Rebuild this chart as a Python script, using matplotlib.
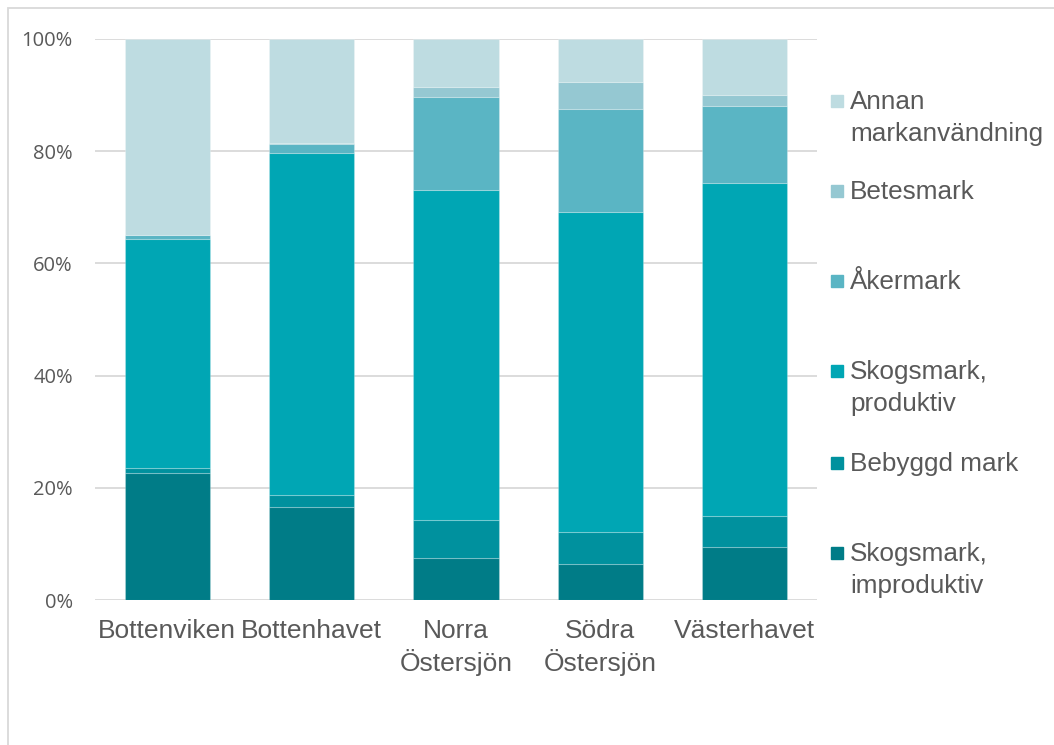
import matplotlib
matplotlib.use("Agg")
import matplotlib.pyplot as plt
from matplotlib.patches import Rectangle
import numpy as np

categories = ["Bottenviken", "Bottenhavet", "Norra\nÖstersjön", "Södra\nÖstersjön", "Västerhavet"]
series_names = ["Skogsmark,\nimproduktiv", "Bebyggd mark", "Skogsmark,\nproduktiv",
                "Åkermark", "Betesmark", "Annan\nmarkanvändning"]
improduktiv = [22.6, 16.6, 7.4, 6.5, 9.5]
bebyggd = [0.9, 2.1, 6.8, 5.7, 5.4]
produktiv = [40.8, 60.9, 58.9, 56.9, 59.4]
akermark = [0.75, 1.7, 16.6, 18.4, 13.8]
betesmark = [0.1, 0.2, 1.7, 4.8, 2.0]
annan = [34.85, 18.5, 8.6, 7.7, 9.9]
ytick_labels = ["0%", "20%", "40%", "60%", "80%", "100%"]

colors = ["#007C87", "#00919E", "#00A6B4", "#5AB5C4", "#95C8D2", "#BEDCE1"]
text_color = "#595959"
grid_color = "#D9D9D9"

W, H = 1054, 745
fig = plt.figure(figsize=(W / 100, H / 100), dpi=100)
ax = fig.add_axes([95 / W, (H - 600) / H, (817 - 95) / W, (600 - 39) / H])

series = [improduktiv, bebyggd, produktiv, akermark, betesmark, annan]
x = np.arange(len(categories))
bottom = np.zeros(len(categories))
for vals, col, name in zip(series, colors, series_names):
    v = np.array(vals, dtype=float)
    ax.bar(x, v, bottom=bottom, width=0.59, color=col, edgecolor=(1, 1, 1, 0.22),
           linewidth=0.8, zorder=3, label=name)
    bottom += v

ax.set_xlim(-0.5, len(categories) - 0.5)
ax.set_ylim(0, 100)
ax.set_yticks(np.arange(0, 101, 20))
ax.set_yticklabels(ytick_labels, fontfamily="Open Sans", fontsize=14.5, color=text_color)
ax.set_xticks(x)
ax.set_xticklabels(categories, fontfamily="Liberation Sans", fontsize=19, color=text_color,
                   linespacing=1.25)
ax.tick_params(axis="y", length=0, pad=16)
ax.tick_params(axis="x", length=0, pad=14)
ax.grid(axis="y", color=grid_color, linewidth=1.3, zorder=0)
for s in ax.spines.values():
    s.set_visible(False)

# Manual legend (Excel-like: entries evenly spaced, top = last series)
marker_centers = [101, 191, 281, 371, 463, 553]
line_step = 32
for i, (name, col) in enumerate(zip(series_names[::-1], colors[::-1])):
    yc = marker_centers[i]
    fig.add_artist(Rectangle((831 / W, (H - yc - 6) / H), 12 / W, 12 / H,
                             transform=fig.transFigure, color=col))
    for k, line in enumerate(name.split("\n")):
        fig.text(850 / W, (H - yc - 8 - k * line_step) / H, line, fontfamily="Liberation Sans",
                 fontsize=18.8, color=text_color, va="baseline", ha="left")

# Outer chart frame
fig.add_artist(Rectangle((8 / W, -0.1), 1.2, (H - 8) / H + 0.1, transform=fig.transFigure,
                         fill=False, edgecolor=grid_color, linewidth=1.3))

fig.savefig("out.png", dpi=100)
